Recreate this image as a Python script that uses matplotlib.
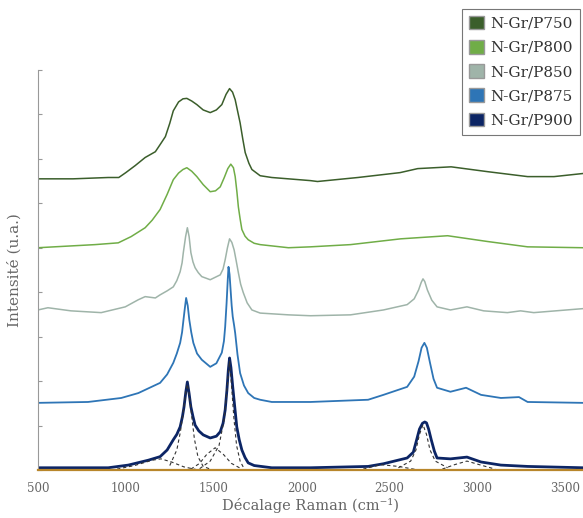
"""Spectres Raman N-Gr/P750 ... P900 (décalés verticalement)."""

import matplotlib

matplotlib.use("Agg")

import matplotlib.pyplot as plt
from matplotlib.patches import Patch


# --- données (décalage Raman en cm-1, intensité en u.a.) ---
p750_x = [500, 700, 900, 960, 1000, 1054, 1110, 1168, 1195, 1225, 1250, 1270, 1300, 1325,
          1347, 1375, 1404, 1440, 1480, 1515, 1546, 1570, 1590, 1607, 1622, 1637, 1650,
          1665, 1679, 1700, 1717, 1764, 1830, 2050, 2090, 2320, 2560, 2660, 2850, 3060,
          3285, 3435, 3600]
p750_y = [6.55, 6.55, 6.58, 6.58, 6.69, 6.85, 7.03, 7.16, 7.32, 7.50, 7.80, 8.08, 8.28, 8.35,
          8.36, 8.30, 8.22, 8.10, 8.04, 8.10, 8.22, 8.45, 8.58, 8.50, 8.33, 8.05, 7.81,
          7.45, 7.14, 6.90, 6.76, 6.62, 6.58, 6.51, 6.49, 6.58, 6.69, 6.78, 6.82, 6.71,
          6.60, 6.60, 6.67]

p800_x = [500, 825, 957, 1030, 1110, 1150, 1195, 1235, 1270, 1300, 1325, 1347, 1375, 1404,
          1440, 1480, 1510, 1537, 1560, 1580, 1597, 1612, 1622, 1632, 1640, 1650, 1660,
          1678, 1696, 1730, 1764, 1925, 2050, 2278, 2563, 2830, 3057, 3285, 3600]
p800_y = [5.00, 5.07, 5.11, 5.25, 5.45, 5.62, 5.86, 6.20, 6.53, 6.68, 6.76, 6.80, 6.72, 6.60,
          6.42, 6.26, 6.28, 6.37, 6.58, 6.78, 6.88, 6.80, 6.60, 6.25, 5.92, 5.65, 5.41,
          5.26, 5.18, 5.10, 5.07, 5.00, 5.02, 5.07, 5.20, 5.27, 5.14, 5.02, 5.00]

p850_x = [500, 557, 688, 860, 997, 1071, 1110, 1168, 1195, 1235, 1270, 1290, 1309, 1320,
          1327, 1340, 1350, 1360, 1370, 1382, 1394, 1412, 1432, 1480, 1537, 1553, 1565,
          1578, 1590, 1603, 1616, 1628, 1640, 1653, 1668, 1690, 1717, 1764, 1925, 2050,
          2278, 2465, 2600, 2640, 2665, 2680, 2690, 2700, 2715, 2740, 2770, 2846, 2940,
          3035, 3170, 3245, 3320, 3600]
p850_y = [3.60, 3.65, 3.58, 3.54, 3.67, 3.83, 3.90, 3.87, 3.94, 4.03, 4.12, 4.26, 4.46, 4.66,
          4.89, 5.25, 5.45, 5.25, 4.89, 4.68, 4.55, 4.44, 4.35, 4.28, 4.39, 4.52, 4.73,
          5.00, 5.20, 5.12, 4.95, 4.70, 4.44, 4.18, 3.99, 3.76, 3.60, 3.53, 3.49, 3.47,
          3.49, 3.60, 3.72, 3.85, 4.05, 4.22, 4.30, 4.24, 4.05, 3.82, 3.67, 3.60, 3.67,
          3.58, 3.54, 3.58, 3.54, 3.63]

p875_x = [500, 785, 974, 1071, 1168, 1195, 1235, 1270, 1290, 1309, 1320, 1328, 1336, 1343,
          1352, 1361, 1372, 1384, 1405, 1432, 1480, 1515, 1546, 1558, 1565, 1573, 1580,
          1584, 1590, 1597, 1602, 1608, 1616, 1622, 1635, 1650, 1672, 1696, 1730, 1764,
          1830, 2050, 2378, 2465, 2600, 2640, 2665, 2682, 2698, 2712, 2730, 2750, 2770,
          2846, 2935, 3020, 3133, 3236, 3285, 3600]
p875_y = [1.51, 1.53, 1.62, 1.73, 1.91, 1.96, 2.15, 2.41, 2.62, 2.86, 3.10, 3.38, 3.65, 3.87,
          3.70, 3.38, 3.10, 2.86, 2.62, 2.48, 2.32, 2.40, 2.64, 2.90, 3.22, 3.75, 4.30,
          4.57, 4.40, 3.99, 3.70, 3.45, 3.25, 3.08, 2.60, 2.18, 1.90, 1.73, 1.62, 1.58,
          1.53, 1.53, 1.58, 1.69, 1.87, 2.10, 2.45, 2.75, 2.86, 2.75, 2.41, 2.05, 1.85,
          1.76, 1.85, 1.69, 1.62, 1.64, 1.53, 1.51]

p900_x = [500, 900, 1014, 1128, 1195, 1235, 1270, 1290, 1309, 1322, 1331, 1341, 1350, 1360,
          1370, 1382, 1394, 1415, 1440, 1480, 1515, 1537, 1553, 1565, 1575, 1583, 1590,
          1598, 1608, 1620, 1631, 1645, 1660, 1678, 1696, 1730, 1830, 2050, 2378, 2465,
          2600, 2635, 2654, 2670, 2687, 2700, 2710, 2722, 2737, 2755, 2770, 2846, 2940,
          3020, 3133, 3285, 3600]
p900_y = [0.05, 0.05, 0.11, 0.22, 0.30, 0.45, 0.68, 0.80, 0.97, 1.20, 1.42, 1.75, 1.98, 1.72,
          1.42, 1.20, 1.01, 0.88, 0.79, 0.72, 0.76, 0.86, 1.05, 1.35, 1.80, 2.25, 2.52,
          2.30, 1.87, 1.40, 0.97, 0.68, 0.45, 0.28, 0.16, 0.10, 0.05, 0.05, 0.08, 0.14,
          0.27, 0.40, 0.68, 0.92, 1.05, 1.08, 1.06, 0.92, 0.68, 0.42, 0.27, 0.25, 0.29,
          0.18, 0.11, 0.08, 0.05]

# composantes de déconvolution de N-Gr/P900 (pointillés)
fit_d_x = [1250, 1290, 1310, 1325, 1340, 1350, 1360, 1375, 1390, 1410, 1440, 1480]
fit_d_y = [0.10, 0.45, 0.85, 1.25, 1.72, 1.93, 1.72, 1.20, 0.70, 0.30, 0.08, 0.02]
fit_g_x = [1420, 1480, 1530, 1560, 1575, 1590, 1603, 1615, 1630, 1650, 1670]
fit_g_y = [0.03, 0.20, 0.55, 1.15, 1.80, 2.45, 1.80, 1.15, 0.55, 0.20, 0.05]
fit_d3_x = [1370, 1420, 1460, 1508, 1555, 1600, 1660]
fit_d3_y = [0.02, 0.15, 0.35, 0.50, 0.35, 0.15, 0.02]
fit_d4_x = [950, 1050, 1150, 1200, 1260, 1330, 1400]
fit_d4_y = [0.02, 0.10, 0.22, 0.25, 0.18, 0.07, 0.01]
fit_2d_x = [2550, 2620, 2650, 2670, 2690, 2710, 2730, 2760, 2830]
fit_2d_y = [0.05, 0.20, 0.45, 0.80, 1.02, 0.80, 0.45, 0.20, 0.05]
fit_a_x = [2350, 2450, 2550, 2650]
fit_a_y = [0.02, 0.12, 0.08, 0.01]
fit_b_x = [2800, 2870, 2940, 3010, 3100]
fit_b_y = [0.02, 0.12, 0.20, 0.12, 0.02]

labels = ["N-Gr/P750", "N-Gr/P800", "N-Gr/P850", "N-Gr/P875", "N-Gr/P900"]
colors = ["#3b5e2b", "#70ad47", "#9fb4a9", "#2e75b6", "#0c2565"]


def main():
    plt.rcParams["font.family"] = ["DejaVu Serif"]
    fig = plt.figure(figsize=(5.83, 5.18), dpi=100)
    ax = fig.add_axes([0.065, 0.0927, 0.935, 0.7723])

    series = [(p750_x, p750_y), (p800_x, p800_y), (p850_x, p850_y),
              (p875_x, p875_y), (p900_x, p900_y)]
    widths = [1.1, 1.1, 1.1, 1.3, 2.0]
    for (x, y), c, lw in zip(series, colors, widths):
        ax.plot(x, y, color=c, linewidth=lw)

    for x, y in [(fit_d_x, fit_d_y), (fit_g_x, fit_g_y), (fit_d3_x, fit_d3_y),
                 (fit_d4_x, fit_d4_y), (fit_2d_x, fit_2d_y), (fit_a_x, fit_a_y),
                 (fit_b_x, fit_b_y)]:
        ax.plot(x, y, color="#333333", linewidth=0.8, linestyle=(0, (3, 2.5)))

    ax.set_xlim(500, 3600)
    ax.set_ylim(0, 9)
    ax.set_xticks([500, 1000, 1500, 2000, 2500, 3000, 3500])
    ax.set_yticks(range(10))
    ax.set_yticklabels([])
    ax.tick_params(axis="y", direction="in", length=3, color="#999999")
    ax.tick_params(axis="x", length=0, labelsize=8.5, labelcolor="#666666", pad=9)

    for side in ("top", "right"):
        ax.spines[side].set_visible(False)
    ax.spines["left"].set_color("#999999")
    ax.spines["bottom"].set_color("#b8862b")
    ax.spines["bottom"].set_linewidth(1.6)

    ax.set_xlabel("Décalage Raman (cm⁻¹)", fontsize=10.5, color="#666666", labelpad=2)
    ax.set_ylabel("Intensité (u.a.)", fontsize=11, color="#666666", labelpad=8)

    handles = [Patch(facecolor=c, edgecolor="#999999", label=l) for c, l in zip(colors, labels)]
    leg = fig.legend(handles=handles, loc="upper right", bbox_to_anchor=(0.995, 0.983),
                     fontsize=11, frameon=True, fancybox=False, edgecolor="#555555",
                     handlelength=1.0, handleheight=1.0, handletextpad=0.4,
                     labelspacing=0.6, borderpad=0.45, borderaxespad=0)
    leg.get_frame().set_linewidth(0.8)
    for t in leg.get_texts():
        t.set_color("#333333")

    fig.savefig("out.png", dpi=100)


if __name__ == "__main__":
    main()
